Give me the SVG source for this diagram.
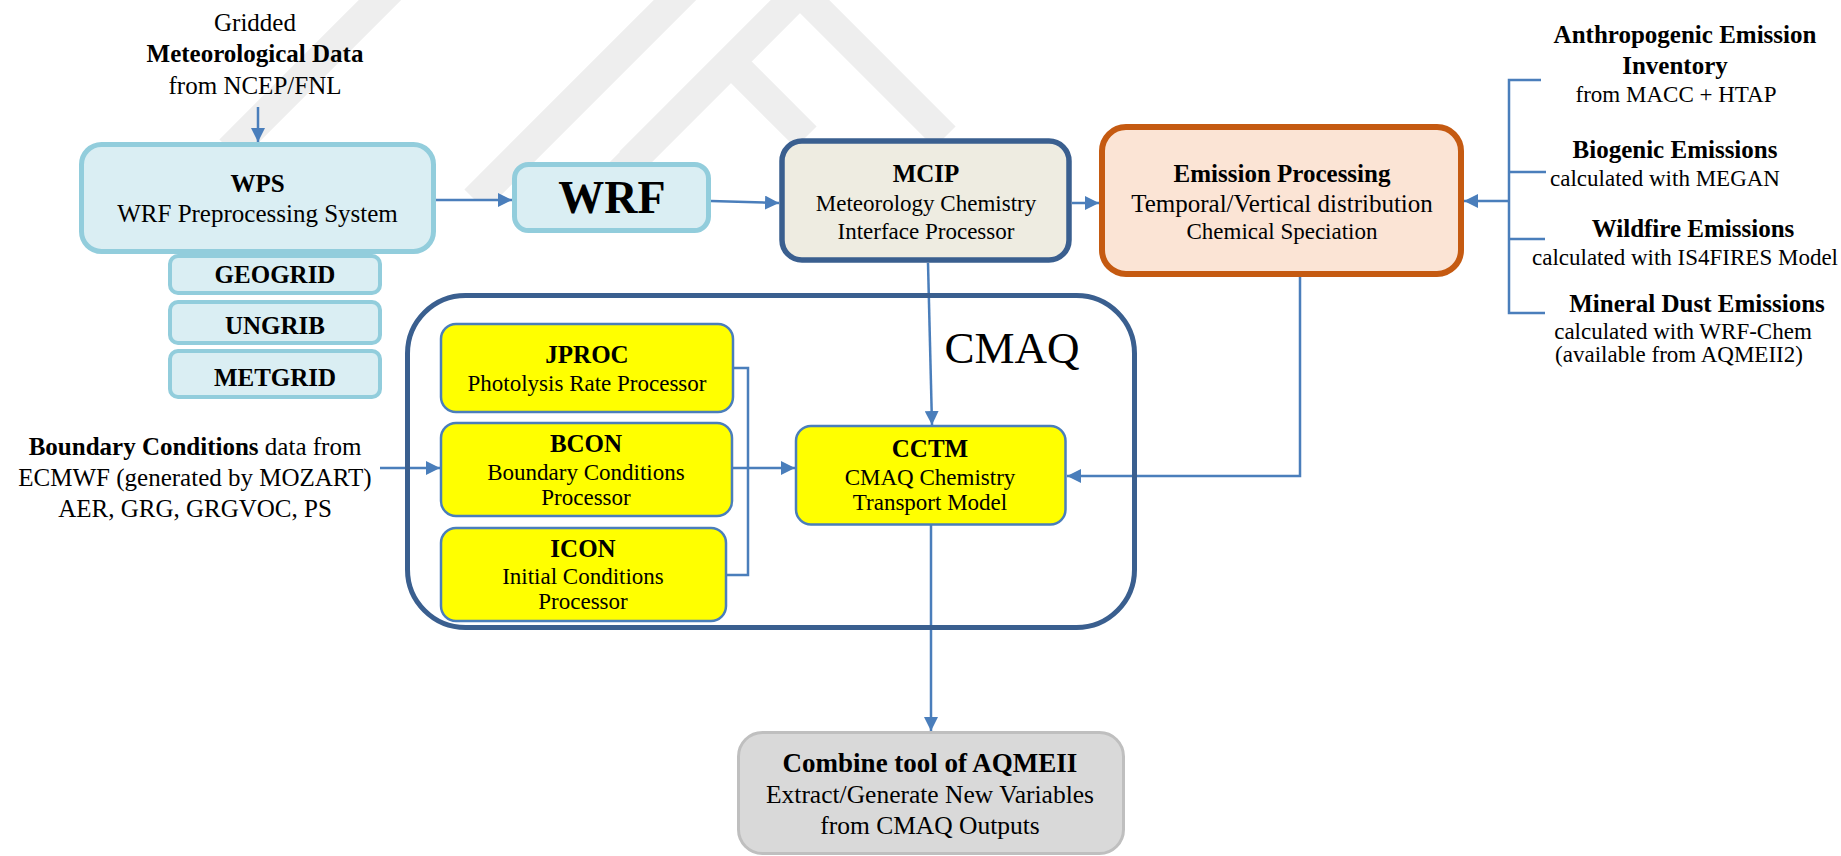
<svg xmlns="http://www.w3.org/2000/svg" width="1841" height="856" viewBox="0 0 1841 856">
<style>
.t{font-family:"Liberation Serif","Times New Roman",serif;fill:#000;text-anchor:middle}
.b{font-weight:bold}
.s25{font-size:25px}
.s23{font-size:23px}
.wps{fill:#DAEEF3;stroke:#92CDDC}
.yel{fill:#FFFF00;stroke:#4A7EBB;stroke-width:2.5}
.con{fill:none;stroke:#4A7EBB;stroke-width:2.5}
.wm{fill:none;stroke:#EEEEEE;stroke-width:30;stroke-linejoin:miter;stroke-linecap:butt}
</style>
<defs>
<marker id="arr" markerUnits="userSpaceOnUse" markerWidth="14" markerHeight="14" refX="14" refY="7" orient="auto">
<path d="M0,0 L14,7 L0,14 z" fill="#4A7EBB"/>
</marker>
<clipPath id="wmclip"><rect x="0" y="0" width="1841" height="200"/></clipPath>
</defs>
<rect x="0" y="0" width="1841" height="856" fill="#FFFFFF"/>
<g id="watermark" clip-path="url(#wmclip)">
<path class="wm" d="M395,-15 L230,150"/>
<path class="wm" d="M690,-15 L475,200"/>
<path class="wm" d="M630,162 L800,-8 L945,137"/>
<path class="wm" d="M610,183 L731,62 L806,137"/>
</g>
<g id="connectors">
<line class="con" x1="258" y1="107" x2="258" y2="142" marker-end="url(#arr)"/>
<line class="con" x1="436" y1="200" x2="512" y2="200" marker-end="url(#arr)"/>
<line class="con" x1="711" y1="201" x2="779" y2="203" marker-end="url(#arr)"/>
<line class="con" x1="1072" y1="203" x2="1099" y2="203" marker-end="url(#arr)"/>
<path class="con" d="M1541,80 H1509 V313 H1545 M1509,172 H1546 M1509,239 H1545"/>
<line class="con" x1="1509" y1="201" x2="1464" y2="201" marker-end="url(#arr)"/>
<path class="con" d="M1300,277 V476 H1067" marker-end="url(#arr)"/>
<line class="con" x1="928" y1="263" x2="932" y2="425" marker-end="url(#arr)"/>
<line class="con" x1="380" y1="468" x2="440" y2="468" marker-end="url(#arr)"/>
<path class="con" d="M734,368 H748 V575 H727"/>
<line class="con" x1="733" y1="468" x2="795" y2="468" marker-end="url(#arr)"/>
<line class="con" x1="931" y1="525" x2="931" y2="731" marker-end="url(#arr)"/>
</g>
<g id="gridded-input">
<text class="t s25" x="255" y="31">Gridded</text>
<text class="t s25 b" x="255" y="62">Meteorological Data</text>
<text class="t s25" x="255" y="94">from NCEP/FNL</text>
</g>
<g id="wps">
<rect class="wps" x="81.5" y="144.5" width="352" height="107" rx="20" stroke-width="5"/>
<text class="t s25 b" x="257.5" y="192">WPS</text>
<text class="t s25" x="257.5" y="222">WRF Preprocessing System</text>
</g>
<g id="geogrid">
<rect class="wps" x="170" y="256" width="210" height="37" rx="8" stroke-width="4"/>
<text class="t s25 b" x="275" y="283">GEOGRID</text>
</g>
<g id="ungrib">
<rect class="wps" x="170" y="302" width="210" height="41" rx="8" stroke-width="4"/>
<text class="t s25 b" x="275" y="334">UNGRIB</text>
</g>
<g id="metgrid">
<rect class="wps" x="170" y="351" width="210" height="46" rx="8" stroke-width="4"/>
<text class="t s25 b" x="275" y="386">METGRID</text>
</g>
<g id="wrf">
<rect class="wps" x="514.5" y="164.5" width="194" height="66" rx="14" stroke-width="5"/>
<text class="t b" x="612" y="213" font-size="46">WRF</text>
</g>
<g id="mcip">
<rect x="782" y="141" width="287" height="119" rx="20" fill="#EEECE1" stroke="#3A5F8F" stroke-width="5.5"/>
<text class="t s25 b" x="926" y="182">MCIP</text>
<text class="t s23" x="926" y="211">Meteorology Chemistry</text>
<text class="t s23" x="926" y="239">Interface Processor</text>
</g>
<g id="emission-processing">
<rect x="1102" y="127" width="359" height="147" rx="24" fill="#FBE4D5" stroke="#C55A11" stroke-width="6"/>
<text class="t s25 b" x="1282" y="182">Emission Processing</text>
<text class="t s25" x="1282" y="212">Temporal/Vertical distribution</text>
<text class="t s23" x="1282" y="239">Chemical Speciation</text>
</g>
<g id="anthropogenic">
<text class="t s25 b" x="1685" y="43">Anthropogenic Emission</text>
<text class="t s25 b" x="1675" y="74">Inventory</text>
<text class="t s23" x="1676" y="102">from MACC + HTAP</text>
</g>
<g id="biogenic">
<text class="t s25 b" x="1675" y="158">Biogenic Emissions</text>
<text class="t s23" x="1665" y="186">calculated with MEGAN</text>
</g>
<g id="wildfire">
<text class="t s25 b" x="1693" y="237">Wildfire Emissions</text>
<text class="t s23" x="1685" y="265">calculated with IS4FIRES Model</text>
</g>
<g id="mineral-dust">
<text class="t s25 b" x="1697" y="312">Mineral Dust Emissions</text>
<text class="t s23" x="1683" y="339">calculated with WRF-Chem</text>
<text class="t s23" x="1679" y="362">(available from AQMEII2)</text>
</g>
<g id="cmaq">
<rect x="407.5" y="295.5" width="727" height="332" rx="58" fill="none" stroke="#3A5F8F" stroke-width="5"/>
<text class="t" x="1012" y="363" font-size="45">CMAQ</text>
</g>
<g id="boundary-input">
<text class="t s25" x="195" y="455"><tspan class="b">Boundary Conditions</tspan> data from</text>
<text class="t s25" x="195" y="486">ECMWF (generated by MOZART)</text>
<text class="t s25" x="195" y="517">AER, GRG, GRGVOC, PS</text>
</g>
<g id="jproc">
<rect class="yel" x="441" y="324" width="292" height="88" rx="15"/>
<text class="t s25 b" x="587" y="363">JPROC</text>
<text class="t s23" x="587" y="391">Photolysis Rate Processor</text>
</g>
<g id="bcon">
<rect class="yel" x="441" y="423" width="291" height="93" rx="15"/>
<text class="t s25 b" x="586" y="452">BCON</text>
<text class="t s23" x="586" y="480">Boundary Conditions</text>
<text class="t s23" x="586" y="505">Processor</text>
</g>
<g id="icon">
<rect class="yel" x="441" y="528" width="285" height="93" rx="15"/>
<text class="t s25 b" x="583" y="557">ICON</text>
<text class="t s23" x="583" y="584">Initial Conditions</text>
<text class="t s23" x="583" y="609">Processor</text>
</g>
<g id="cctm">
<rect class="yel" x="796" y="426" width="269.5" height="98.5" rx="15"/>
<text class="t s25 b" x="930" y="457">CCTM</text>
<text class="t s23" x="930" y="485">CMAQ Chemistry</text>
<text class="t s23" x="930" y="510">Transport Model</text>
</g>
<g id="combine">
<rect x="738.5" y="732.5" width="385" height="121" rx="24" fill="#D9D9D9" stroke="#BFBFBF" stroke-width="3"/>
<text class="t b" x="930" y="772" font-size="27">Combine tool of AQMEII</text>
<text class="t" x="930" y="803" font-size="25.5">Extract/Generate New Variables</text>
<text class="t" x="930" y="834" font-size="25.5">from CMAQ Outputs</text>
</g>
</svg>
